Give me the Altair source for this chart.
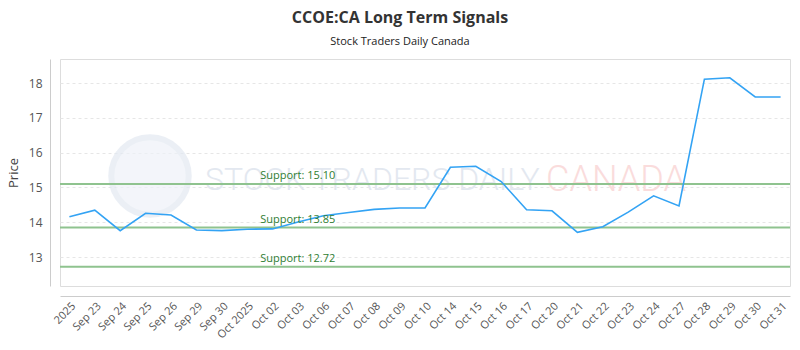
import altair as alt
import pandas as pd

labels = ["2025", "Sep 23", "Sep 24", "Sep 25", "Sep 26", "Sep 29", "Sep 30", "Oct 2025",
          "Oct 02", "Oct 03", "Oct 06", "Oct 07", "Oct 08", "Oct 09", "Oct 10", "Oct 14",
          "Oct 15", "Oct 16", "Oct 17", "Oct 20", "Oct 21", "Oct 22", "Oct 23", "Oct 24",
          "Oct 27", "Oct 28", "Oct 29", "Oct 30", "Oct 31"]
prices = [14.16, 14.35, 13.76, 14.26, 14.21, 13.78, 13.76, 13.80,
          13.81, 14.01, 14.19, 14.28, 14.37, 14.41, 14.41, 15.58,
          15.61, 15.17, 14.36, 14.33, 13.71, 13.87, 14.29, 14.76,
          14.47, 18.11, 18.15, 17.60, 17.60]
supports = [15.10, 13.85, 12.72]
support_labels = ["Support: 15.10", "Support: 13.85", "Support: 12.72"]
y_ticks = [13, 14, 15, 16, 17, 18]

df = pd.DataFrame({"date": labels, "price": prices})
sup = pd.DataFrame({"value": supports, "label": support_labels, "date": ["Oct 2025"] * 3})

FONT = "Open Sans"

x_scale = alt.Scale(type="point", domain=labels, padding=0.37)
x_enc = alt.X("date:N", scale=x_scale,
              axis=alt.Axis(title=None, labelAngle=-45, offset=10, domainColor="#cccccc",
                            ticks=False, grid=False, labelColor="#555555", labelFont=FONT,
                            labelFontSize=11, labelPadding=4))
y_scale = alt.Scale(domain=[12.17, 18.69], nice=False, zero=False)
y_axis = alt.Axis(title="Price", values=y_ticks, offset=10, domainColor="#cccccc", ticks=False,
                  grid=True, gridColor="#e6e6e6", gridDash=[3, 3], labelColor="#555555",
                  labelFont=FONT, labelFontSize=12, labelPadding=8, titleFont=FONT,
                  titleFontSize=13, titleFontWeight="normal", titleColor="#444444", titlePadding=8)

# watermark
wm_circle = alt.Chart(pd.DataFrame({"a": [1]})).mark_point(
    shape="circle", filled=True, color="#eef2f8", stroke="#e3e9f2", strokeWidth=6, size=6000
).encode(x=alt.value(90), y=alt.value(117))
wm1 = alt.Chart(pd.DataFrame({"t": ["STOCK TRADERS DAILY"]})).mark_text(
    align="left", baseline="middle", font="Roboto", fontSize=32,
    fontWeight=300, color="#e3e8f0"
).encode(x=alt.value(145), y=alt.value(121), text="t:N")
wm2 = alt.Chart(pd.DataFrame({"t": ["CANADA"]})).mark_text(
    align="left", baseline="middle", font="Roboto", fontSize=36,
    fontWeight=300, color="#fadcdc"
).encode(x=alt.value(486), y=alt.value(121), text="t:N")

line = alt.Chart(df).mark_line(color="#33a3f4", strokeWidth=1.6).encode(
    x=x_enc, y=alt.Y("price:Q", scale=y_scale, axis=y_axis))

rules = alt.Chart(sup).mark_rule(color="#8fc38f", strokeWidth=2).encode(
    y=alt.Y("value:Q", scale=y_scale))

texts = alt.Chart(sup).mark_text(align="left", baseline="bottom", dx=13, dy=-3,
                                 font=FONT, fontSize=11, color="#2e7d32").encode(
    x=alt.X("date:N", scale=x_scale), y=alt.Y("value:Q", scale=y_scale), text="label:N")

chart = alt.layer(wm_circle, wm1, wm2, rules, line, texts).properties(
    width=730, height=227,
    padding={"left": 60, "top": 59, "right": 10, "bottom": 64},
    autosize=alt.AutoSizeParams(type="none"),
    title=alt.TitleParams(text="CCOE:CA Long Term Signals", subtitle="Stock Traders Daily Canada",
                          anchor="middle", dx=-25, offset=12, font=FONT, fontSize=16,
                          fontWeight="bold", color="#333333", subtitleFont=FONT,
                          subtitleFontSize=11, subtitleColor="#222222", subtitlePadding=10)
).configure_view(stroke="#888888", strokeWidth=1).configure(background="white")

chart.save("out.html", embed_options={"renderer": "svg", "actions": False})
